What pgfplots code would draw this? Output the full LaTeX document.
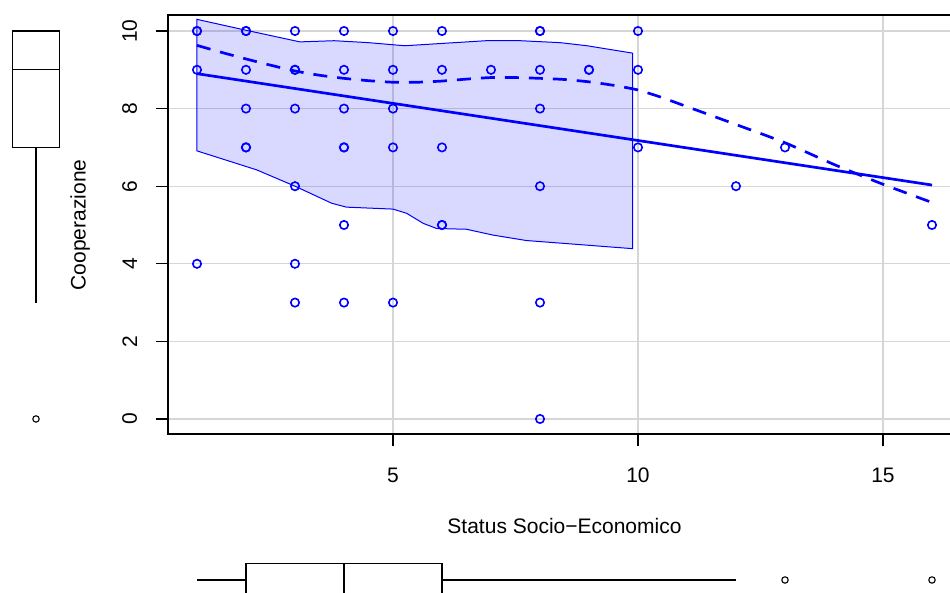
\documentclass[border=0pt]{standalone}
\usepackage{fontspec}
\setmainfont{Liberation Sans}
\usepackage{pgfplots}
\pgfplotsset{compat=1.18}
\usepgfplotslibrary{statistics}
\begin{document}
\fontsize{10.5}{12}\selectfont
\begin{tikzpicture}
\begin{axis}[
 at={(83.8pt,79.25pt)}, anchor=south west,
 scale only axis, width=396.9pt, height=209.5pt,
 xmin=0.4, xmax=16.6, ymin=-0.4, ymax=10.4,
 xtick={5,10,15}, ytick={0,2,4,6,8,10},
 xtick pos=bottom, ytick pos=left,
 tick align=outside, major tick length=6pt,
 tick style={black, line width=0.6pt},
 grid=major, major grid style={black!16, line width=0.65pt},
 axis line style={line width=1pt},
 /pgf/number format/assume math mode=true,
 xticklabel style={anchor=north, inner sep=0pt},
 yticklabel style={rotate=90, anchor=south, inner sep=0pt},
 xticklabel shift=10.5pt, yticklabel shift=9pt,
 xlabel={Status Socio−Economico},
 ylabel={Cooperazione},
 xlabel style={at={([yshift=-41.5pt]axis description cs:0.5,0)}, anchor=north, inner sep=0pt},
 ylabel style={at={([xshift=-48.8pt]axis description cs:0,0.5)}, rotate=0, anchor=north, inner sep=0pt},
]
% band
\addplot[draw=blue, line width=0.5pt, fill=blue, fill opacity=0.15] coordinates {
 (1,10.30) (2,10.02) (3.1,9.72) (3.8,9.75) (4.5,9.70) (5.24,9.62) (6,9.68) (6.9,9.75) (7.6,9.75) (8.41,9.70) (8.96,9.62) (9.89,9.43)
 (9.89,4.39) (7.72,4.60) (7.04,4.74) (6.5,4.89) (5.89,4.91) (5.62,5.04) (5.28,5.30) (5,5.41) (4.05,5.46) (3.75,5.56) (3,6.0) (2.22,6.42) (1,6.91)
} -- cycle;
% points
\addplot[only marks, blue, mark=o, mark size=2.1pt, mark options={line width=0.8pt}] coordinates {
 (1,10) (2,10) (3,10) (4,10) (5,10) (6,10) (8,10) (10,10)
 (1,9) (2,9) (3,9) (4,9) (5,9) (6,9) (7,9) (8,9) (9,9) (10,9)
 (2,8) (3,8) (4,8) (5,8) (8,8)
 (2,7) (4,7) (5,7) (6,7) (10,7) (13,7)
 (3,6) (8,6) (12,6)
 (4,5) (6,5) (16,5)
 (1,4) (3,4)
 (3,3) (4,3) (5,3) (8,3)
 (8,0)
 (1,10) (2,10) (8,10) (3,9) (9,9) (2,7) (4,7) (6,5)
};
% regression line
\addplot[blue, line width=1.35pt] coordinates {(1,8.90) (16,6.03)};
% loess
\addplot[blue, line width=1.35pt, dash pattern=on 7pt off 5pt, smooth, tension=0.4] coordinates {
 (1,9.63) (1.5,9.45) (2,9.28) (2.5,9.12) (3,8.97) (3.5,8.86) (4,8.78) (4.5,8.72) (5,8.68) (5.5,8.68) (6,8.71) (6.5,8.76) (7,8.80) (7.5,8.80) (8,8.78) (8.5,8.75) (9,8.69) (9.5,8.60) (10,8.48) (10.5,8.28) (11,8.05) (12,7.59) (13,7.12) (14,6.56) (15,6.05) (16,5.58)
};
\end{axis}
% left boxplot
\begin{axis}[at={(6.35pt,79.25pt)}, anchor=south west, scale only axis, width=23.3pt, height=209.5pt,
 xmin=-0.5, xmax=0.5, ymin=-0.4, ymax=10.4, hide axis, clip=false]
\addplot[black, line width=0.6pt, mark=o, mark size=1.6pt, mark options={line width=0.55pt},
 boxplot prepared={draw direction=y, draw position=0, box extend=1, whisker extend=0,
 lower whisker=3, lower quartile=7, median=9, upper quartile=10, upper whisker=10}]
 table[row sep=\\, y index=0, header=false] {0\\};
\end{axis}
% bottom boxplot
\begin{axis}[at={(83.8pt,-1.85pt)}, anchor=south west, scale only axis, width=396.9pt, height=16.7pt,
 xmin=0.4, xmax=16.6, ymin=-0.5, ymax=0.5, hide axis, clip=false]
\addplot[black, line width=0.6pt, mark=o, mark size=1.6pt, mark options={line width=0.55pt},
 boxplot prepared={draw direction=x, draw position=0, box extend=1, whisker extend=0,
 lower whisker=1, lower quartile=2, median=4, upper quartile=6, upper whisker=12}]
 table[row sep=\\, y index=0, header=false] {13\\16\\};
\end{axis}
\pgfresetboundingbox
\useasboundingbox (0,0) rectangle (475pt,296.5pt);
\end{tikzpicture}
\end{document}
